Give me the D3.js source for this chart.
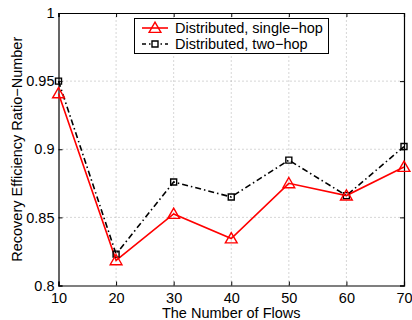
<!DOCTYPE html>
<html>
<head>
<meta charset="utf-8">
<script src="https://cdn.jsdelivr.net/npm/d3@7"></script>
<style>
  body { margin: 0; background: #fff; }
  svg { display: block; font-family: "Liberation Sans", Arial, sans-serif; }
</style>
</head>
<body>
<svg id="chart" width="412" height="320"></svg>
<script>
// data
const flows = [10, 20, 30, 40, 50, 60, 70];
const singleHop = [0.941, 0.8185, 0.8525, 0.8345, 0.875, 0.866, 0.887];
const twoHop = [0.950, 0.823, 0.876, 0.865, 0.892, 0.866, 0.902];
const yTicks = [0.8, 0.85, 0.9, 0.95, 1];
const seriesNames = ["Distributed, single\u2212hop", "Distributed, two\u2212hop"];

const width = 412, height = 320;
const margin = {top: 13, right: 8, bottom: 34.5, left: 58.5};

const svg = d3.select("#chart");

const x = d3.scaleLinear().domain([10, 70]).range([margin.left, width - margin.right]);
const y = d3.scaleLinear().domain([0.8, 1]).range([height - margin.bottom, margin.top]);

// grid
const grid = svg.append("g")
  .attr("stroke", "#999")
  .attr("stroke-width", 0.8)
  .attr("stroke-dasharray", "1,3");
grid.selectAll(".gx")
  .data(flows.slice(1, -1))
  .join("line")
  .attr("x1", d => x(d)).attr("x2", d => x(d))
  .attr("y1", y(0.8)).attr("y2", y(1));
grid.selectAll(".gy")
  .data(yTicks.slice(1, -1))
  .join("line")
  .attr("x1", x(10)).attr("x2", x(70))
  .attr("y1", d => y(d)).attr("y2", d => y(d));

// axes with inward ticks
svg.append("g")
  .attr("transform", `translate(0,${y(0.8)})`)
  .call(d3.axisBottom(x).tickValues(flows).tickSize(-4).tickPadding(7).tickFormat(d3.format("d")));
svg.append("g")
  .attr("transform", `translate(0,${y(1)})`)
  .call(d3.axisTop(x).tickValues(flows).tickSize(-4).tickFormat(""));
svg.append("g")
  .attr("transform", `translate(${x(10)},0)`)
  .call(d3.axisLeft(y).tickValues(yTicks).tickSize(-4).tickPadding(4).tickFormat(d => d3.format("")(+d.toFixed(2))));
svg.append("g")
  .attr("transform", `translate(${x(70)},0)`)
  .call(d3.axisRight(y).tickValues(yTicks).tickSize(-4).tickFormat(""));

svg.selectAll(".domain").attr("stroke", "#000").attr("stroke-width", 1.2);
svg.selectAll(".tick line").attr("stroke", "#000");
svg.selectAll(".tick text").attr("font-size", 14.5).attr("fill", "#000")
  .attr("font-family", "Liberation Sans, Arial, sans-serif");

// lines
const line = d3.line().x((d, i) => x(flows[i])).y(d => y(d));

svg.append("path")
  .datum(twoHop)
  .attr("fill", "none")
  .attr("stroke", "#000")
  .attr("stroke-width", 1.6)
  .attr("stroke-dasharray", "6,3,1.5,3")
  .attr("d", line);

svg.append("path")
  .datum(singleHop)
  .attr("fill", "none")
  .attr("stroke", "#ff0000")
  .attr("stroke-width", 1.6)
  .attr("d", line);

const tri = d3.symbol().type(d3.symbolTriangle).size(60);
const sq = d3.symbol().type(d3.symbolSquare).size(36);

svg.append("g").selectAll("path")
  .data(twoHop)
  .join("path")
  .attr("transform", (d, i) => `translate(${x(flows[i])},${y(d)})`)
  .attr("d", sq)
  .attr("fill", "none")
  .attr("stroke", "#000")
  .attr("stroke-width", 1.4);

svg.append("g").selectAll("path")
  .data(singleHop)
  .join("path")
  .attr("transform", (d, i) => `translate(${x(flows[i])},${y(d) + 1})`)
  .attr("d", tri)
  .attr("fill", "none")
  .attr("stroke", "#ff0000")
  .attr("stroke-width", 1.4);

// legend
const lg = svg.append("g");
lg.append("rect")
  .attr("x", 134.5).attr("y", 18.5).attr("width", 194).attr("height", 35)
  .attr("fill", "#fff").attr("stroke", "#000").attr("stroke-width", 1);

const legendRows = [
  {name: seriesNames[0], color: "#ff0000", dash: null, sym: tri},
  {name: seriesNames[1], color: "#000", dash: "4,3,1.5,3", sym: sq}
];
legendRows.forEach((r, i) => {
  const cy = 28 + i * 16;
  lg.append("line")
    .attr("x1", 142).attr("x2", 168).attr("y1", cy).attr("y2", cy)
    .attr("stroke", r.color).attr("stroke-width", 1.6)
    .attr("stroke-dasharray", r.dash);
  lg.append("path")
    .attr("transform", `translate(155,${cy + (i === 0 ? 1 : 0)})`)
    .attr("d", r.sym)
    .attr("fill", i === 1 ? "#fff" : "none")
    .attr("stroke", r.color).attr("stroke-width", 1.4);
  lg.append("text")
    .attr("x", 175).attr("y", cy + 5)
    .attr("font-size", 14.5)
    .text(r.name);
});

// axis titles
svg.append("text")
  .attr("x", (x(10) + x(70)) / 2).attr("y", 318)
  .attr("text-anchor", "middle")
  .attr("font-size", 14.5)
  .text("The Number of Flows");

svg.append("text")
  .attr("transform", `translate(22,${(y(0.8) + y(1)) / 2}) rotate(-90)`)
  .attr("text-anchor", "middle")
  .attr("font-size", 14.5)
  .text("Recovery Efficiency Ratio\u2212Number");
</script>
</body>
</html>
